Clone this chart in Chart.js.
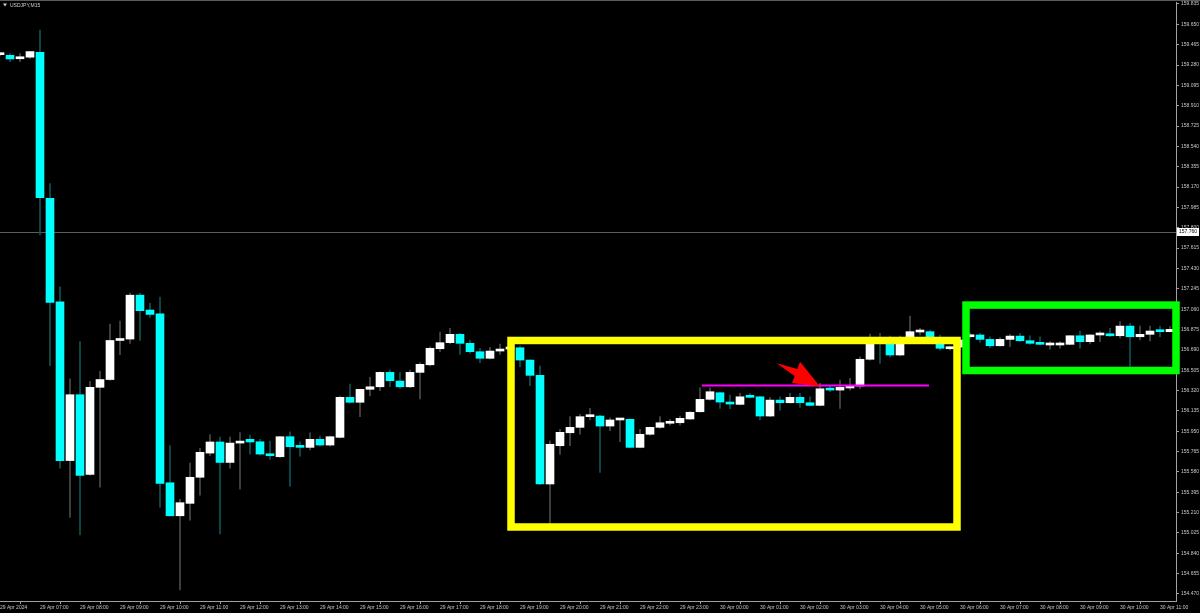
<!DOCTYPE html>
<html>
<head>
<meta charset="utf-8">
<title>USDJPY,M15</title>
<script src="https://cdn.jsdelivr.net/npm/chart.js@4.4.1/dist/chart.umd.min.js"></script>
<style>
  html, body { margin: 0; padding: 0; background: #000; overflow: hidden; }
  #wrap { width: 1200px; height: 613px; }
  canvas { display: block; background: #000; }
</style>
</head>
<body>
<div id="wrap"><canvas id="canvas" width="1200" height="613"></canvas></div>
<script>
// USDJPY M15 candles, 29 Apr 06:00 -> 30 Apr 11:15 (one per 15 min)
var openP = [159.374,159.368,159.337,159.351,159.395,158.067,157.126,155.683,156.282,155.558,
  156.349,156.420,156.775,156.788,157.187,157.052,157.018,155.481,155.181,155.294,
  155.531,155.751,155.852,155.666,155.842,155.876,155.854,155.742,155.718,155.900,
  155.815,155.803,155.876,155.824,155.894,156.258,156.213,156.331,156.354,156.485,
  156.406,156.354,156.485,156.554,156.700,156.755,156.831,156.749,156.673,156.613,
  156.679,156.697,156.709,156.597,156.458,155.470,155.818,155.936,155.985,156.082,
  156.088,155.997,156.052,156.058,155.803,155.922,155.985,156.022,156.027,156.061,
  156.127,156.240,156.300,156.215,156.194,156.270,156.263,156.088,156.233,156.209,
  156.258,156.209,156.185,156.336,156.324,156.343,156.361,156.604,156.788,156.797,
  156.643,156.779,156.852,156.855,156.797,156.700,156.715,156.809,156.825,156.785,
  156.727,156.785,156.815,156.773,156.749,156.734,156.734,156.740,156.818,156.764,
  156.825,156.836,156.818,156.906,156.809,156.831,156.861,156.855];
var highP = [159.385,159.385,159.385,159.405,159.598,158.201,157.262,156.427,156.765,156.404,
  156.494,156.924,156.951,157.205,157.205,157.113,157.170,155.819,155.330,155.660,
  155.794,155.920,155.896,155.896,155.937,155.915,155.876,155.861,155.902,155.945,
  155.854,155.936,155.906,155.906,156.270,156.379,156.334,156.440,156.491,156.506,
  156.482,156.506,156.573,156.718,156.852,156.885,156.840,156.779,156.704,156.713,
  156.743,156.734,156.725,156.600,156.543,155.863,155.967,156.082,156.103,156.158,
  156.097,156.072,156.065,156.062,155.967,155.988,156.082,156.058,156.088,156.129,
  156.345,156.345,156.306,156.279,156.294,156.294,156.270,156.258,156.263,156.294,
  156.294,156.263,156.385,156.361,156.415,156.431,156.627,156.834,156.840,156.815,
  156.815,156.997,156.885,156.870,156.825,156.725,156.797,156.843,156.840,156.809,
  156.802,156.831,156.840,156.818,156.809,156.764,156.764,156.820,156.861,156.829,
  156.855,156.885,156.946,156.931,156.906,156.906,156.906,156.902];
var lowP = [159.362,159.311,159.311,159.341,157.735,156.545,155.615,155.166,155.007,155.551,
  155.440,156.411,156.646,156.748,156.775,156.985,155.260,155.178,154.506,155.142,
  155.369,155.727,155.017,155.615,155.423,155.742,155.733,155.694,155.712,155.451,
  155.724,155.779,155.815,155.815,155.888,156.206,156.082,156.270,156.318,156.354,
  156.340,156.347,156.243,156.543,156.673,156.743,156.649,156.658,156.573,156.607,
  156.649,156.679,156.536,156.363,155.465,155.112,155.740,155.818,155.924,156.052,
  155.576,155.954,155.854,155.799,155.799,155.915,155.976,156.006,156.006,156.056,
  156.124,156.233,156.158,156.154,156.188,156.253,156.052,156.083,156.142,156.206,
  156.167,156.179,156.179,156.309,156.158,156.324,156.340,156.597,156.567,156.624,
  156.634,156.770,156.825,156.779,156.688,156.688,156.706,156.797,156.758,156.709,
  156.725,156.718,156.764,156.740,156.734,156.697,156.704,156.738,156.704,156.743,
  156.764,156.809,156.795,156.536,156.779,156.770,156.809,156.852];
var closeP = [159.376,159.335,159.355,159.402,158.073,157.120,155.683,156.282,155.548,156.349,
  156.420,156.775,156.788,157.187,157.046,157.012,155.475,155.181,155.300,155.531,
  155.758,155.852,155.666,155.842,155.855,155.852,155.742,155.727,155.900,155.809,
  155.803,155.876,155.824,155.900,156.258,156.213,156.331,156.354,156.485,156.409,
  156.354,156.485,156.558,156.704,156.755,156.831,156.749,156.673,156.613,156.679,
  156.697,156.704,156.597,156.458,155.470,155.831,155.940,155.985,156.082,156.091,
  155.997,156.052,156.061,155.803,155.922,155.985,156.027,156.033,156.067,156.122,
  156.240,156.309,156.215,156.197,156.263,156.258,156.088,156.233,156.209,156.258,
  156.209,156.185,156.336,156.324,156.349,156.349,156.604,156.749,156.752,156.643,
  156.779,156.855,156.858,156.797,156.704,156.713,156.779,156.825,156.785,156.727,
  156.785,156.815,156.773,156.749,156.740,156.734,156.736,156.818,156.764,156.825,
  156.836,156.818,156.906,156.809,156.831,156.861,156.855,156.876];

// hourly time labels (every 4th bar)
var xLabels = ['29 Apr 2024','29 Apr 07:00','29 Apr 08:00','29 Apr 09:00','29 Apr 10:00','29 Apr 11:00',
  '29 Apr 12:00','29 Apr 13:00','29 Apr 14:00','29 Apr 15:00','29 Apr 16:00','29 Apr 17:00',
  '29 Apr 18:00','29 Apr 19:00','29 Apr 20:00','29 Apr 21:00','29 Apr 22:00','29 Apr 23:00',
  '30 Apr 00:00','30 Apr 01:00','30 Apr 02:00','30 Apr 03:00','30 Apr 04:00','30 Apr 05:00',
  '30 Apr 06:00','30 Apr 07:00','30 Apr 08:00','30 Apr 09:00','30 Apr 10:00','30 Apr 11:00'];
var yTicks = [159.835,159.650,159.465,159.280,159.095,158.910,158.725,158.540,158.355,158.170,
  157.985,157.800,157.615,157.430,157.245,157.060,156.875,156.690,156.505,156.320,
  156.135,155.950,155.765,155.580,155.395,155.210,155.025,154.840,154.655,154.470];
var priceLine = 157.760;

// drawn objects, in bar index / price units
var yellowBox = { t1: 51.1, t2: 95.7, p1: 156.775, p2: 155.079 };
var greenBox = { t1: 96.6, t2: 117.6, p1: 157.097, p2: 156.502 };
var magentaLine = { t1: 70.2, t2: 92.9, p: 156.365 };
var arrowT = [77.67, 79.73, 80.0, 82.0, 79.2, 79.47];
var arrowP = [156.567, 156.516, 156.582, 156.356, 156.388, 156.453];

var wicks = [], bodies = [], bodyColors = [], wickColors = [];
for (var i = 0; i < openP.length; i++) {
  var up = closeP[i] >= openP[i];
  wicks.push({ x: i, y: [lowP[i], highP[i]] });
  bodies.push({ x: i, y: [openP[i], closeP[i]] });
  bodyColors.push(up ? '#ffffff' : '#00ffff');
  wickColors.push(up ? '#4a4a4a' : '#0e5454');
}

var mtObjects = {
  id: 'mtObjects',
  beforeDatasetsDraw: function(chart) {
    var ctx = chart.ctx, a = chart.chartArea, y = chart.scales.y;
    var py = Math.round(y.getPixelForValue(priceLine)) + 0.5;
    ctx.save();
    ctx.strokeStyle = '#5c5c5c';
    ctx.lineWidth = 1;
    ctx.beginPath();
    ctx.moveTo(a.left, py);
    ctx.lineTo(a.right, py);
    ctx.stroke();
    ctx.restore();
  },
  afterDatasetsDraw: function(chart) {
    var ctx = chart.ctx, x = chart.scales.x, y = chart.scales.y;
    function rect(b, color) {
      var x1 = x.getPixelForValue(b.t1), x2 = x.getPixelForValue(b.t2);
      var y1 = y.getPixelForValue(b.p1), y2 = y.getPixelForValue(b.p2);
      ctx.strokeStyle = color;
      ctx.lineWidth = 7.5;
      ctx.strokeRect(x1, y1, x2 - x1, y2 - y1);
    }
    ctx.save();
    rect(yellowBox, '#ffff00');
    rect(greenBox, '#00ff00');
    // magenta level
    var my = y.getPixelForValue(magentaLine.p);
    ctx.strokeStyle = '#ff00ff';
    ctx.lineWidth = 2;
    ctx.beginPath();
    ctx.moveTo(x.getPixelForValue(magentaLine.t1), my);
    ctx.lineTo(x.getPixelForValue(magentaLine.t2), my);
    ctx.stroke();
    // red arrow
    ctx.fillStyle = '#ff0000';
    ctx.beginPath();
    for (var k = 0; k < arrowT.length; k++) {
      var ax = x.getPixelForValue(arrowT[k]), ay = y.getPixelForValue(arrowP[k]);
      if (k === 0) ctx.moveTo(ax, ay); else ctx.lineTo(ax, ay);
    }
    ctx.closePath();
    ctx.fill();
    ctx.restore();
  },
  afterDraw: function(chart) {
    var ctx = chart.ctx, a = chart.chartArea, y = chart.scales.y;
    ctx.save();
    // window top border
    ctx.fillStyle = '#5a5a5a';
    ctx.fillRect(0, 0, chart.width, 1);
    // current price label box
    var py = Math.round(y.getPixelForValue(priceLine));
    ctx.fillStyle = '#ffffff';
    ctx.fillRect(a.right + 1, py - 4, chart.width - a.right - 2, 8);
    ctx.fillStyle = '#000000';
    ctx.font = '5px "Liberation Sans", Arial, sans-serif';
    ctx.textBaseline = 'middle';
    ctx.textAlign = 'left';
    ctx.fillText(priceLine.toFixed(3), a.right + 3, py);
    // symbol title
    ctx.fillStyle = '#d0d0d0';
    ctx.beginPath();
    ctx.moveTo(3, 3.5); ctx.lineTo(7, 3.5); ctx.lineTo(5, 6.5);
    ctx.closePath();
    ctx.fill();
    ctx.fillText('USDJPY,M15', 10, 5.5);
    ctx.restore();
  }
};

var ctx = document.getElementById('canvas').getContext('2d');
var myChart = new Chart(ctx, {
  type: 'bar',
  data: {
    datasets: [{
      label: 'body',
      data: bodies,
      backgroundColor: bodyColors,
      borderWidth: 0,
      barThickness: 8,
      minBarLength: 2,
      grouped: false,
      order: 0
    },
    {
      label: 'wick',
      data: wicks,
      backgroundColor: wickColors,
      borderWidth: 0,
      barThickness: 1,
      minBarLength: 1,
      grouped: false,
      order: 1
    }]
  },
  options: {
    responsive: false,
    animation: false,
    events: [],
    layout: { padding: { top: 2, left: 0, right: 0, bottom: 0 } },
    plugins: { legend: { display: false }, tooltip: { enabled: false } },
    scales: {
      x: {
        type: 'linear',
        min: 0,
        max: 117.6,
        offset: false,
        afterBuildTicks: function(scale) {
          scale.ticks = xLabels.map(function(l, k) { return { value: k * 4 }; });
        },
        afterFit: function(scale) {
          scale.height = 12;
          scale.paddingLeft = 0;
          scale.paddingRight = 0;
        },
        ticks: {
          autoSkip: false,
          maxRotation: 0,
          minRotation: 0,
          align: 'start',
          padding: 1,
          color: '#c8c8c8',
          font: { family: '"Liberation Sans", Arial, sans-serif', size: 5 },
          callback: function(v) { return xLabels[Math.round(v / 4)]; }
        },
        grid: { display: true, drawOnChartArea: false, drawTicks: true, tickLength: 3, color: '#a0a0a0' },
        border: { display: true, color: '#a0a0a0' }
      },
      y: {
        type: 'linear',
        position: 'right',
        min: 154.406,
        max: 159.853,
        afterBuildTicks: function(scale) {
          scale.ticks = yTicks.map(function(v) { return { value: v }; });
        },
        afterFit: function(scale) {
          scale.width = 24;
          scale.paddingTop = 0;
          scale.paddingBottom = 0;
        },
        ticks: {
          padding: 2,
          color: '#c8c8c8',
          font: { family: '"Liberation Sans", Arial, sans-serif', size: 5 },
          callback: function(v) { return Number(v).toFixed(3); }
        },
        grid: { display: true, drawOnChartArea: false, drawTicks: true, tickLength: 3, color: '#a0a0a0' },
        border: { display: true, color: '#a0a0a0' }
      }
    }
  },
  plugins: [mtObjects]
});
</script>
</body>
</html>
